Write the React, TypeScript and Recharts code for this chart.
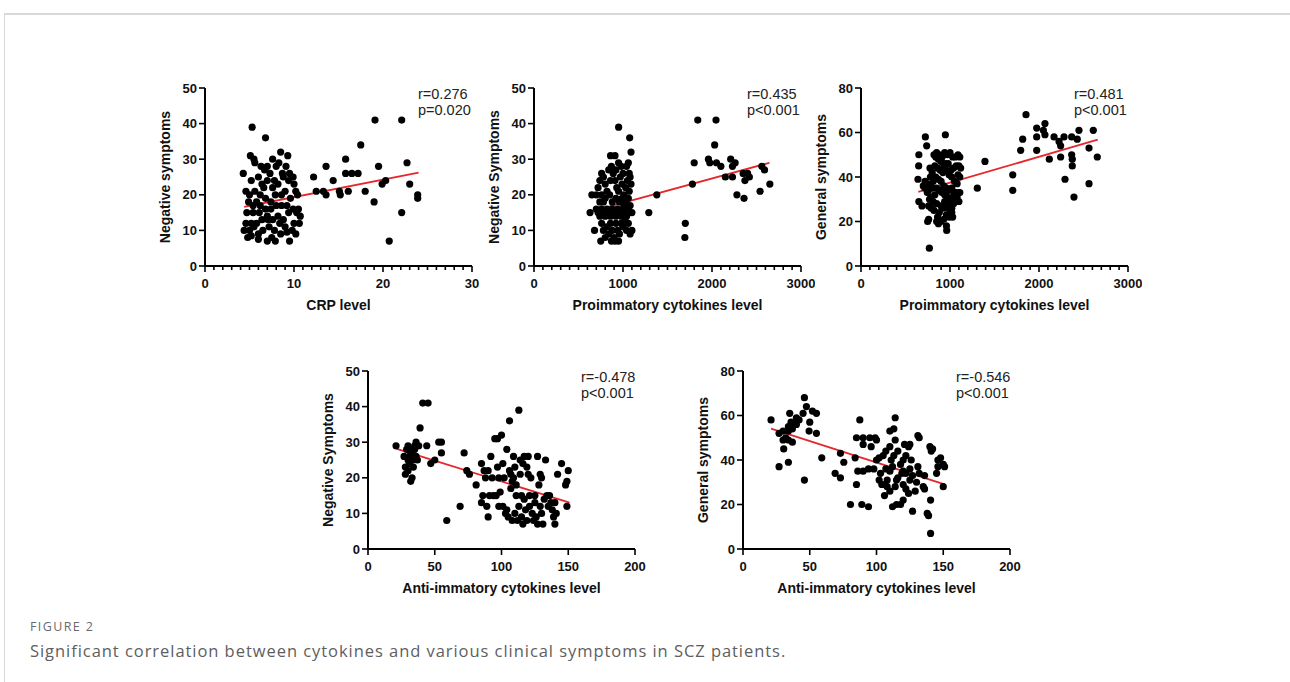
import React from "react";
import { ScatterChart, Scatter, XAxis, YAxis, ReferenceLine } from "recharts";

type Pt = [number, number];

// ---- data ----

// CRP level vs negative symptoms
const crpNegative: Pt[] = [
  [5.3, 39], [6.8, 36], [8.5, 32], [9.3, 31], [5.1, 31], [5.5, 30], [4.3, 26], [7.0, 7], [7.9, 7], [9.5, 7],
  [4.8, 8], [5.2, 8.5], [5.0, 10], [5.5, 11], [6.0, 9], [6.5, 10], [7.2, 11], [7.8, 10], [8.4, 12], [9.0, 11],
  [9.8, 10], [10.2, 9], [4.6, 12], [5.2, 12], [5.8, 12], [6.4, 13], [7.0, 14], [7.6, 13], [8.2, 14], [8.8, 13],
  [9.4, 15], [10.0, 12], [10.6, 12], [10.3, 15], [4.7, 15], [5.4, 15], [6.1, 15], [6.8, 16], [7.4, 16], [8.0, 17],
  [8.6, 17], [9.2, 17], [9.9, 16], [10.5, 16], [5.0, 20], [5.6, 21], [6.2, 20], [6.8, 19], [7.4, 18], [7.9, 20],
  [8.6, 20], [9.0, 21], [9.6, 19], [10.2, 21], [4.6, 21], [5.8, 18], [6.4, 23], [7.0, 24], [7.6, 22], [8.2, 23],
  [8.8, 25], [9.4, 24], [10.0, 23], [10.4, 20], [5.2, 24], [6.0, 25], [6.7, 27], [7.3, 26], [8.0, 28], [8.7, 26],
  [9.5, 26], [9.9, 25], [5.6, 29], [6.3, 28], [7.0, 28], [7.6, 30], [8.3, 29], [9.1, 28], [7.8, 24], [6.6, 22],
  [4.9, 18], [5.4, 17], [6.2, 17], [7.1, 13], [8.5, 9], [6.0, 7.5], [9.2, 9.5], [4.4, 10], [7.5, 8], [10.7, 14],
  [12.2, 25], [12.5, 21], [13.6, 28], [13.3, 21], [13.6, 20], [14.4, 24], [15.1, 21], [15.2, 20], [15.8, 30],
  [15.8, 26], [16.1, 21], [16.5, 26], [17.2, 26], [17.5, 34], [18, 21], [19.1, 41], [19, 18], [19.5, 28],
  [19.9, 23], [20.3, 24], [20.7, 7], [22.1, 41], [22.1, 15], [22.7, 29], [23, 23], [23.9, 20], [23.9, 19],
];
const crpNegativeFit: Pt[] = [[4.4, 16.6], [24, 26.2]];

// proinflammatory cytokines vs negative symptoms
const proNegative: Pt[] = [
  [951, 39], [1075, 36], [1090, 32], [860, 31], [910, 31], [650, 20], [760, 20], [630, 15], [680, 10], [750, 7],
  [950, 7], [1100, 15], [1100, 10],
  [700, 16], [720, 15], [740, 14], [760, 16], [780, 15], [800, 14], [820, 16], [840, 15], [860, 14], [880, 16],
  [900, 15], [920, 14], [940, 16], [960, 15], [980, 14], [1000, 16], [1020, 15], [1040, 14], [1060, 16], [1080, 17],
  [720, 22], [740, 24], [760, 26], [780, 25], [800, 23], [820, 21], [840, 27], [870, 28], [890, 26], [910, 24],
  [930, 22], [950, 21], [970, 25], [990, 23], [1010, 20], [1030, 22], [1050, 24], [1070, 26], [1090, 23], [1060, 19],
  [760, 12], [780, 10], [800, 8], [820, 11], [840, 9], [860, 12], [880, 10], [900, 8], [920, 12], [940, 10],
  [960, 9], [980, 12], [1000, 11], [1020, 13], [1040, 10], [1060, 12], [1080, 9], [870, 7], [910, 7], [780, 18],
  [800, 19], [850, 20], [880, 18], [920, 19], [960, 18], [990, 19], [1030, 18], [1070, 21], [740, 18], [700, 20],
  [980, 28], [1000, 26], [1040, 28], [1060, 29], [1080, 25], [950, 29], [920, 27], [1010, 17], [1030, 17], [860, 24],
  [1840, 41], [2045, 41], [2030, 34], [1800, 29], [1960, 30], [1975, 29], [2050, 29], [2100, 28], [2210, 30],
  [2230, 28], [2260, 29], [2150, 25], [2230, 25], [2350, 26], [2400, 26], [2420, 25], [2370, 24], [2360, 19],
  [2280, 20], [2540, 21], [2560, 28], [2590, 27], [2650, 23], [1780, 23], [1700, 12], [1695, 8], [1380, 20], [1290, 15],
];
const proNegativeFit: Pt[] = [[690, 15.6], [2645, 29]];

// proinflammatory cytokines vs general symptoms
const proGeneral: Pt[] = [
  [650, 50], [648, 45], [640, 39], [650, 29], [685, 27], [723, 58], [738, 54], [948, 59], [775, 44], [768, 8],
  [749, 20], [760, 21], [850, 20], [870, 19], [963, 16], [960, 18], [1030, 22], [1020, 24],
  [700, 36], [720, 35], [740, 37], [760, 34], [780, 36], [800, 35], [720, 38], [745, 33], [770, 30], [790, 31],
  [810, 29], [830, 32], [760, 27], [790, 26], [820, 25], [850, 28], [880, 24], [900, 27], [930, 26], [960, 23],
  [990, 22], [1000, 25], [1040, 28], [1070, 29], [1100, 29], [1090, 33], [1060, 33], [1110, 33], [1080, 37],
  [1050, 38], [1020, 40], [990, 41], [960, 43], [930, 45], [900, 47], [870, 48], [840, 49], [820, 50], [850, 51],
  [880, 50], [910, 49], [940, 51], [970, 50], [1000, 51], [1030, 49], [1060, 49], [1090, 50], [1110, 49],
  [1100, 45], [1070, 45], [1040, 44], [1010, 43], [980, 46], [950, 46], [920, 42], [890, 43], [860, 44], [830, 45],
  [800, 42], [780, 40], [810, 38], [840, 40], [870, 39], [900, 38], [930, 36], [960, 35], [990, 34], [1020, 35],
  [1050, 33], [1080, 31], [1060, 30], [1030, 31], [1000, 30], [970, 31], [940, 32], [910, 33], [880, 34], [850, 35],
  [1110, 40], [1120, 44], [1090, 41], [860, 22], [900, 20], [930, 21], [970, 28], [1000, 27], [1020, 26], [940, 29],
  [1307, 35], [1393, 47], [1854, 68], [1974, 62], [2067, 64], [2049, 61], [2067, 59], [1817, 57], [1974, 58],
  [1794, 52], [1974, 52], [2169, 58], [2281, 58], [2225, 56], [2243, 54], [2367, 58], [2430, 57], [2449, 61],
  [2610, 61], [2562, 53], [2655, 49], [2116, 48], [2243, 49], [2367, 50], [2374, 48], [2374, 45], [1705, 41],
  [2292, 39], [1705, 34], [2562, 37], [2393, 31],
];
const proGeneralFit: Pt[] = [[644, 33.3], [2660, 56.8]];

// anti-inflammatory cytokines vs negative symptoms
const antiNegative: Pt[] = [
  [21, 29], [27, 26], [28, 23], [28, 21], [29, 28], [30, 29], [30, 25], [31, 26], [32, 27], [32, 19],
  [33, 20], [34, 23], [34, 25], [35, 29], [35, 28], [36, 30], [36, 26], [37, 25], [38, 29], [39, 34],
  [41, 41], [45, 41], [44, 29], [47, 24], [50, 25], [53, 30], [55, 30], [55, 27], [59, 8], [33, 28], [31, 24], [30, 22],
  [69, 12], [72, 27], [74, 22], [76, 21], [81, 18], [85, 24], [85, 13], [86, 15], [87, 22], [88, 20], [89, 12],
  [90, 22], [90, 9], [91, 15], [92, 26], [93, 20], [94, 15], [95, 31], [97, 31], [97, 23], [98, 20], [99, 16],
  [100, 32], [101, 24], [101, 12], [102, 20], [103, 10], [104, 28], [105, 9], [106, 36], [106, 22], [107, 21],
  [107, 17], [108, 8], [108, 19], [109, 20], [109, 26], [110, 10], [110, 23], [111, 15], [111, 18], [112, 8],
  [113, 39], [113, 12], [114, 25], [114, 21], [115, 15], [115, 9], [116, 24], [116, 7], [117, 14], [118, 11],
  [119, 23], [119, 8], [120, 21], [120, 26], [121, 15], [121, 12], [122, 20], [123, 10], [124, 8], [125, 15],
  [125, 13], [126, 9], [127, 26], [127, 7], [128, 18], [129, 12], [129, 21], [130, 20], [130, 10], [131, 7],
  [132, 14], [133, 25], [134, 15], [135, 12], [136, 15], [137, 13], [138, 11], [139, 9], [140, 13], [140, 7],
  [141, 10], [142, 21], [145, 24], [148, 18], [149, 19], [149, 12], [150, 22], [104, 11], [96, 15], [98, 12], [117, 26],
];
const antiNegativeFit: Pt[] = [[21, 28.2], [151, 13]];

// anti-inflammatory cytokines vs general symptoms
const antiGeneral: Pt[] = [
  [21, 58], [27, 37], [27, 52], [30, 53], [34, 53], [37, 54], [30, 49], [32, 50], [34, 49], [37, 48],
  [30.5, 45], [34, 55], [36, 57], [40, 59], [38, 56], [34, 39], [35, 61], [40, 56], [42, 58], [45, 61],
  [47.5, 64], [46, 68], [46, 31], [50, 57], [49.5, 53], [52, 62], [55, 61], [55, 52], [59, 41],
  [69, 34], [73, 43], [73, 32], [75.5, 39], [84, 41], [85, 29], [87.5, 58], [80.5, 20], [89, 20], [94, 19],
  [85, 50], [90, 50], [95, 50], [99, 50], [100, 49], [86, 35], [90, 35], [94, 36], [90, 47], [96, 46],
  [100, 40], [102, 41], [105, 42], [107, 44], [110, 46], [103, 34], [104, 29], [106, 29], [110, 53], [114, 49],
  [113, 42], [114, 59], [113, 54], [107, 36], [110, 35], [112, 37], [106, 24], [108, 28], [110, 26], [112, 19],
  [114, 28], [115, 20], [118, 20], [120, 22], [115, 31], [116, 32], [119, 34], [120, 40], [122, 42], [124, 46],
  [121, 47], [125, 47], [120, 35], [122, 34], [125, 36], [120, 29], [122, 27], [124, 25], [125, 31], [127, 33],
  [127, 17], [130, 30], [131, 37], [132, 34], [135, 28], [136, 27], [131, 51], [132, 50], [136, 33], [138, 16],
  [139, 15], [140, 46], [141, 44], [142, 45], [140.5, 22], [140.5, 7], [145, 34], [146, 37], [146, 40], [148, 41],
  [150, 38], [151, 37], [150, 28], [118, 38], [116, 44], [111, 40], [108, 31], [126, 40], [129, 26], [98, 36], [102, 31],
];
const antiGeneralFit: Pt[] = [[21, 54.1], [151, 29]];

// axis ticks
const crpTicks = [0, 10, 20, 30];
const cytoTicks = [0, 1000, 2000, 3000];
const antiTicks = [0, 50, 100, 150, 200];
const negTicks = [0, 10, 20, 30, 40, 50];
const genTicks = [0, 20, 40, 60, 80];

// ---- layout ----
const FONT = '"Liberation Sans", Arial, Helvetica, sans-serif';
const CAPTION_FONT = '"Open Sans", "Noto Sans", sans-serif';
const YW = 60;
const T = 12;
const R = 14;
const XH = 48;
const PW = 267;
const PH = 178;

type PanelProps = {
  left: number;
  top: number;
  data: Pt[];
  fit: Pt[];
  xTicks: number[];
  minorStep?: number;
  yTicks: number[];
  xLabel: string;
  yLabel: string;
  r: string;
  p: string;
};

function Panel({ left, top, data, fit, xTicks, minorStep, yTicks, xLabel, yLabel, r, p }: PanelProps) {
  const xMax = xTicks[xTicks.length - 1];
  const yMax = yTicks[yTicks.length - 1];
  const allX: number[] = [...xTicks];
  if (minorStep) {
    for (let v = 0; v <= xMax; v += minorStep) if (!allX.includes(v)) allX.push(v);
    allX.sort((a, b) => a - b);
  }
  const pts = data.map(([x, y]) => ({ x, y }));
  const axisY = T + PH;

  const renderXTick = (props: any) => {
    const { x, payload } = props;
    const major = xTicks.includes(payload.value);
    return (
      <g key={`xt-${payload.value}`}>
        <line x1={x} x2={x} y1={axisY} y2={axisY + (major ? 6 : 4)} stroke="#000" strokeWidth={1.6} />
        {major && (
          <text x={x} y={axisY + 22} textAnchor="middle" fontSize={13} fontWeight={700} fontFamily={FONT} fill="#111">
            {payload.value}
          </text>
        )}
      </g>
    );
  };

  const renderYTick = (props: any) => {
    const { y, payload } = props;
    return (
      <g key={`yt-${payload.value}`}>
        <line x1={YW - 6} x2={YW} y1={y} y2={y} stroke="#000" strokeWidth={1.6} />
        <text x={YW - 8} y={y + 4.5} textAnchor="end" fontSize={13} fontWeight={700} fontFamily={FONT} fill="#111">
          {payload.value}
        </text>
      </g>
    );
  };

  return (
    <>
      <div style={{ position: "absolute", left: left - YW, top: top - T }}>
        <ScatterChart
          width={YW + PW + R}
          height={T + PH + XH}
          margin={{ top: T, right: R, bottom: 0, left: 0 }}
        >
          <XAxis
            type="number"
            dataKey="x"
            domain={[0, xMax]}
            ticks={allX}
            interval={0}
            height={XH}
            tickLine={false}
            tick={renderXTick}
            axisLine={{ stroke: "#000", strokeWidth: 2 }}
          />
          <YAxis
            type="number"
            dataKey="y"
            domain={[0, yMax]}
            ticks={yTicks}
            interval={0}
            width={YW}
            tickLine={false}
            tick={renderYTick}
            axisLine={{ stroke: "#000", strokeWidth: 2 }}
          />
          <Scatter
            data={pts}
            isAnimationActive={false}
            shape={(s: any) => <circle cx={s.cx} cy={s.cy} r={3.6} fill="#000" />}
          />
          <ReferenceLine
            segment={[
              { x: fit[0][0], y: fit[0][1] },
              { x: fit[1][0], y: fit[1][1] },
            ]}
            stroke="#e5262c"
            strokeWidth={1.8}
          />
        </ScatterChart>
      </div>
      {/* axis titles */}
      <div
        style={{
          position: "absolute",
          left: left + PW / 2 - 150,
          width: 300,
          top: top + PH + 30,
          textAlign: "center",
          fontFamily: FONT,
          fontWeight: 700,
          fontSize: 14,
          lineHeight: "18px",
          color: "#111",
        }}
      >
        {xLabel}
      </div>
      <div
        style={{
          position: "absolute",
          left: left - 40 - 100,
          width: 200,
          top: top + PH / 2 - 9,
          textAlign: "center",
          fontFamily: FONT,
          fontWeight: 700,
          fontSize: 14,
          lineHeight: "18px",
          color: "#111",
          transform: "rotate(-90deg)",
        }}
      >
        {yLabel}
      </div>
      {/* statistics */}
      <div
        style={{
          position: "absolute",
          left: left + 213,
          top: top - 2,
          fontFamily: FONT,
          fontSize: 14.5,
          lineHeight: "16px",
          color: "#222",
          whiteSpace: "nowrap",
        }}
      >
        <div>{r}</div>
        <div>{p}</div>
      </div>
    </>
  );
}

export default function App() {
  return (
    <div style={{ position: "absolute", left: 0, top: 0, width: 1290, height: 682, background: "#fff", overflow: "hidden" }}>
      <div
        style={{
          position: "absolute",
          left: 4,
          top: 13,
          width: 1290,
          height: 700,
          borderTop: "2px solid #d8d8d8",
          borderLeft: "1px solid #d8d8d8",
        }}
      />
      <Panel
        left={205}
        top={88}
        data={crpNegative}
        fit={crpNegativeFit}
        xTicks={crpTicks}
        minorStep={1}
        yTicks={negTicks}
        xLabel="CRP level"
        yLabel="Negative symptoms"
        r="r=0.276"
        p="p=0.020"
      />
      <Panel
        left={534}
        top={88}
        data={proNegative}
        fit={proNegativeFit}
        xTicks={cytoTicks}
        minorStep={100}
        yTicks={negTicks}
        xLabel="Proimmatory cytokines level"
        yLabel="Negative Symptoms"
        r="r=0.435"
        p="p<0.001"
      />
      <Panel
        left={861}
        top={88}
        data={proGeneral}
        fit={proGeneralFit}
        xTicks={cytoTicks}
        minorStep={100}
        yTicks={genTicks}
        xLabel="Proimmatory cytokines level"
        yLabel="General symptoms"
        r="r=0.481"
        p="p<0.001"
      />
      <Panel
        left={368}
        top={371}
        data={antiNegative}
        fit={antiNegativeFit}
        xTicks={antiTicks}
        yTicks={negTicks}
        xLabel="Anti-immatory cytokines level"
        yLabel="Negative Symptoms"
        r="r=-0.478"
        p="p<0.001"
      />
      <Panel
        left={743}
        top={371}
        data={antiGeneral}
        fit={antiGeneralFit}
        xTicks={antiTicks}
        yTicks={genTicks}
        xLabel="Anti-immatory cytokines level"
        yLabel="General symptoms"
        r="r=-0.546"
        p="p<0.001"
      />
      <div
        style={{
          position: "absolute",
          left: 30,
          top: 619,
          fontFamily: CAPTION_FONT,
          fontSize: 12.5,
          letterSpacing: 1.4,
          color: "#6a6a6a",
          lineHeight: "16px",
        }}
      >
        FIGURE 2
      </div>
      <div
        style={{
          position: "absolute",
          left: 30,
          top: 640,
          fontFamily: CAPTION_FONT,
          fontSize: 16.5,
          letterSpacing: 0.95,
          color: "#5e5e5e",
          lineHeight: "22px",
          whiteSpace: "nowrap",
        }}
      >
        Significant correlation between cytokines and various clinical symptoms in SCZ patients.
      </div>
    </div>
  );
}
